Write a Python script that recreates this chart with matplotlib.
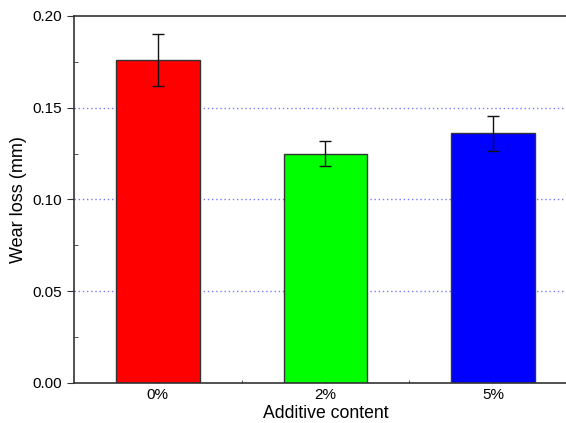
import matplotlib.pyplot as plt
import numpy as np
from matplotlib.ticker import MultipleLocator

plt.rcParams['font.family'] = ['Liberation Sans', 'DejaVu Sans']

labels = ['0%', '2%', '5%']
wear = [0.176, 0.125, 0.136]
err = [0.014, 0.007, 0.0095]
colors = ['#ff0000', '#00ff00', '#0000ff']

fig = plt.figure(figsize=(5.66, 4.23), dpi=100)
ax = fig.add_axes([0.1307, 0.0946, 0.8887, 0.8676])

x = np.arange(len(labels))
for yg in [0.05, 0.10, 0.15]:
    ax.axhline(yg, color='#7878ff', linestyle=(0, (1, 2)), linewidth=1, zorder=0)

ax.bar(x, wear, width=0.5, color=colors, edgecolor='#333333', linewidth=1, zorder=2)
ax.errorbar(x, wear, yerr=err, fmt='none', ecolor='#111111', elinewidth=1,
            capsize=4, capthick=1, zorder=3)

ax.set_xlim(-0.5, 2.5)
ax.set_ylim(0, 0.20)
ax.set_xticks(x)
ax.set_xticklabels(labels)
ax.set_xticks([0.5, 1.5], minor=True)
ax.yaxis.set_major_locator(MultipleLocator(0.05))
ax.yaxis.set_minor_locator(MultipleLocator(0.025))
ax.yaxis.set_major_formatter(plt.FormatStrFormatter('%.2f'))

ax.tick_params(axis='y', which='major', direction='out', length=5, labelsize=11, colors='#333333', labelcolor='black')
ax.tick_params(axis='y', which='minor', direction='in', length=3, colors='#333333')
ax.tick_params(axis='x', which='major', direction='in', length=3, labelsize=11, colors='#333333', labelcolor='black')
ax.tick_params(axis='x', which='minor', direction='in', length=2, colors='#333333')

for s in ax.spines.values():
    s.set_color('#333333')
    s.set_linewidth(1.2)

ax.set_xlabel('Additive content', fontsize=12.7, labelpad=2)
ax.set_ylabel('Wear loss (mm)', fontsize=13, labelpad=4)

plt.savefig('out.png', dpi=100)
